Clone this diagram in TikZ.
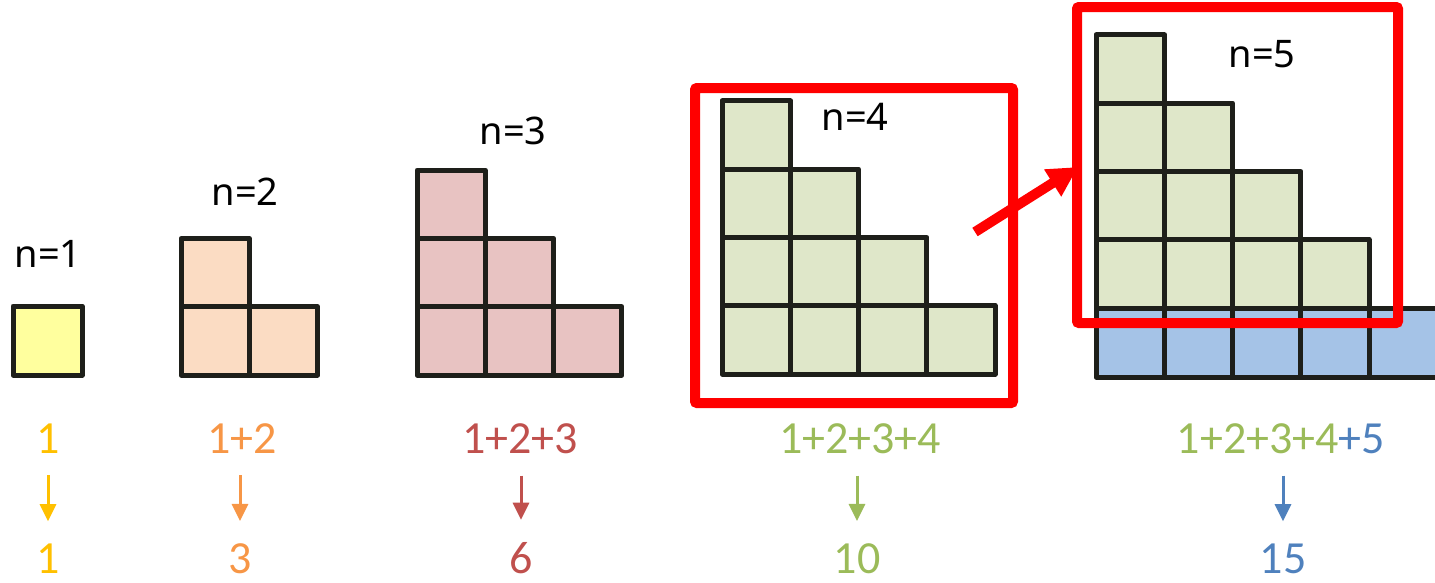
\documentclass[tikz,border=0pt]{standalone}
\usepackage{fontspec}
\setmainfont{Carlito}
\newfontfamily\labelfont{Noto Sans}
\usetikzlibrary{arrows.meta}
\definecolor{cellline}{HTML}{1E1F1A}
\definecolor{fyellow}{HTML}{FFFF9E}
\definecolor{forange}{HTML}{FBDCC3}
\definecolor{fpink}{HTML}{E8C3C2}
\definecolor{fgreen}{HTML}{DFE7C9}
\definecolor{fblue}{HTML}{A5C3E7}
\definecolor{tyellow}{HTML}{FFC000}
\definecolor{torange}{HTML}{F79646}
\definecolor{tred}{HTML}{C0504D}
\definecolor{tgreen}{HTML}{9BBB59}
\definecolor{tblue}{HTML}{4F81BD}
\definecolor{boxred}{HTML}{FF0000}
\tikzset{
  cell/.style={draw=cellline, line width=5pt, line join=round},
  nlabel/.style={anchor=base, inner sep=0pt, font=\labelfont\fontsize{38}{42}\selectfont},
  sumlabel/.style={anchor=base, inner sep=0pt, font=\fontsize{46}{50}\selectfont},
  downarrow/.style={line width=3pt, -{Triangle[length=17pt,width=16pt]}, shorten <=22pt, shorten >=22pt},
  redbox/.style={draw=boxred, line width=10pt, rounded corners=2pt},
  redarrow/.style={draw=boxred, line width=10pt, -{Triangle[length=30pt,width=30pt]}}
}
\newcommand\drawstair[4]{%
  \foreach \r in {1,...,#3}{%
    \pgfmathtruncatemacro\mcols{#3-\r+1}%
    \foreach \c in {1,...,\mcols}{%
      \draw[cell,fill=#4] ({#1+(\c-1)*68.3},{#2-\r*68.3}) rectangle ++(68.3,68.3);
    }%
  }%
}
\begin{document}
\begin{tikzpicture}[x=1pt,y=-1pt]
\useasboundingbox (0,0) rectangle (1435,582);
% staircases
\draw[cell,fill=fyellow] (13,306) rectangle (82,375);
\drawstair{181}{375}{2}{forange}
\drawstair{417}{375}{3}{fpink}
\drawstair{722}{374}{4}{fgreen}
\drawstair{1096}{308}{4}{fgreen}
\foreach \c in {0,...,4}{\draw[cell,fill=fblue] ({1096+\c*68.3},308.7) rectangle ++(68.3,68.3);}
% n labels
\node[nlabel] (n1) at (48,267) {n=1};
\node[nlabel] (n2) at (245,205) {n=2};
\node[nlabel] (n3) at (513,144) {n=3};
\node[nlabel] (n4) at (855,130) {n=4};
\node[nlabel] (n5) at (1262,67) {n=5};
% red boxes and arrow
\draw[redbox] (695,88) rectangle (1013,403);
\draw[redbox] (1077,7) rectangle (1398,323);
\coordinate (rs) at (975,232);
\coordinate (re) at (1078,167);
\draw[redarrow] (rs) -- (re);
% sums
\node[sumlabel, text=tyellow] (s1) at (48,453) {1};
\node[sumlabel, text=torange] (s2) at (242,453) {1+2};
\node[sumlabel, text=tred] (s3) at (520,453) {1+2+3};
\node[sumlabel, text=tgreen] (s4) at (860,453) {1+2+3+4};
\node[sumlabel] (s5) at (1281,453) {\textcolor{tgreen}{1+2+3+4}\textcolor{tblue}{+5}};
% results
\node[sumlabel, text=tyellow] (r1) at (48,573) {1};
\node[sumlabel, text=torange] (r2) at (240,573) {3};
\node[sumlabel, text=tred] (r3) at (521,573) {6};
\node[sumlabel, text=tgreen] (r4) at (857,573) {10};
\node[sumlabel, text=tblue] (r5) at (1283,573) {15};
% arrows
\draw[downarrow, tyellow] (s1.south) -- (r1.north);
\draw[downarrow, torange] (r2.north |- s2.south) -- (r2.north);
\draw[downarrow, tred] (r3.north |- s3.south) -- (r3.north);
\draw[downarrow, tgreen] (r4.north |- s4.south) -- (r4.north);
\draw[downarrow, tblue] (r5.north |- s5.south) -- (r5.north);
\end{tikzpicture}
\end{document}
